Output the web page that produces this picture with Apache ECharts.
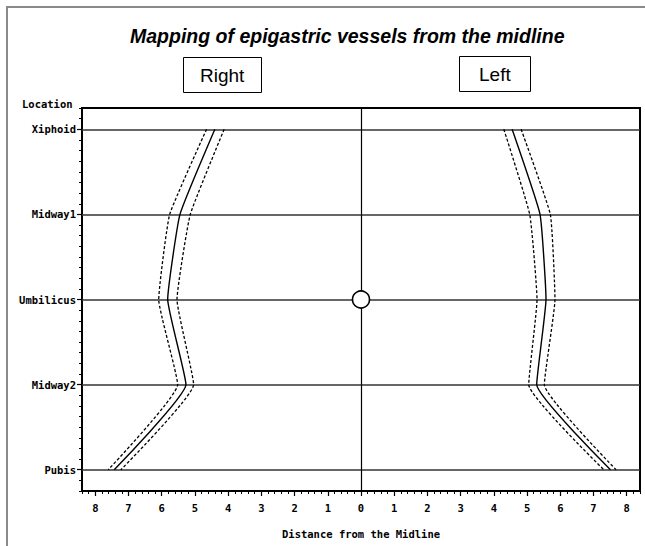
<!DOCTYPE html>
<html>
<head>
<meta charset="utf-8">
<script src="https://cdn.jsdelivr.net/npm/echarts@6/dist/echarts.min.js"></script>
<style>html,body{margin:0;padding:0;background:#fff}#c{width:645px;height:546px}</style>
</head>
<body>
<div id="c"></div>
<script>
// Locations, listed from top (Xiphoid) to bottom (Pubis)
const locations = ['Xiphoid', 'Midway1', 'Umbilicus', 'Midway2', 'Pubis'];
// Right side distances from midline (cm), mean and confidence bounds
const rightMean  = [4.40, 5.45, 5.82, 5.27, 7.43];
const rightInner = [4.12, 5.14, 5.54, 5.04, 7.23];
const rightOuter = [4.65, 5.76, 6.09, 5.52, 7.61];
// Left side
const leftMean  = [4.55, 5.39, 5.57, 5.29, 7.51];
const leftInner = [4.30, 5.08, 5.30, 5.05, 7.31];
const leftOuter = [4.82, 5.70, 5.84, 5.52, 7.68];
// Axis ticks
const xTicks = [-8,-7,-6,-5,-4,-3,-2,-1,0,1,2,3,4,5,6,7,8];
const yTicks = [0,1,2,3,4];
const umbilicusPoint = [0, 'Umbilicus'];

const yOf = name => locations.length - 1 - locations.indexOf(name);
function pts(vals, sign) {
  return vals.map((v, i) => [sign * v, yOf(locations[i])]);
}

const monoBold = {fontFamily: 'DejaVu Sans Mono', fontWeight: 'bold', fontSize: 10.5, color: '#000'};

function lineSeries(data, dashed, extra) {
  return Object.assign({
    type: 'line', data: data, smooth: 0.12, symbol: 'none', silent: true,
    lineStyle: {color: '#000', width: dashed ? 1.3 : 1.4, type: dashed ? [3, 2] : 'solid'},
    z: 3
  }, extra || {});
}

const chart = echarts.init(document.getElementById('c'), null, {renderer: 'svg'});
chart.setOption({
  animation: false,
  backgroundColor: '#fff',
  title: [
    {text: 'Mapping of epigastric vessels from the midline', left: 125, top: 21,
     textStyle: {fontFamily: 'Liberation Sans', fontWeight: 'bold', fontStyle: 'italic', fontSize: 19.5, color: '#000'}},
    {text: 'Right', left: 183, top: 57, borderColor: '#000', borderWidth: 1, padding: [8, 17],
     textStyle: {fontFamily: 'Liberation Sans', fontWeight: 'normal', fontSize: 19, lineHeight: 20, color: '#000'}},
    {text: 'Left', left: 459, top: 56, borderColor: '#000', borderWidth: 1, padding: [8, 20],
     textStyle: {fontFamily: 'Liberation Sans', fontWeight: 'normal', fontSize: 19, lineHeight: 20, color: '#000'}},
    {text: 'Location', left: 22, top: 98, padding: 0,
     textStyle: Object.assign({}, monoBold, {fontSize: 10.5})}
  ],
  graphic: [
    {type: 'rect', shape: {x: 7, y: 7, width: 800, height: 700}, style: {fill: 'none', stroke: '#8a8a8a', lineWidth: 2}, silent: true}
  ],
  grid: {left: 82, right: 5, top: 108, bottom: 55, show: true, borderColor: '#000', borderWidth: 2, containLabel: false},
  xAxis: [
    {type: 'value', min: -8.4, max: 8.4,
     axisLine: {show: false, onZero: false},
     axisTick: {show: true, customValues: xTicks, length: 5, lineStyle: {color: '#000', width: 1.2}},
     axisLabel: {customValues: xTicks, margin: 11, formatter: v => String(Math.abs(Math.round(v))), ...monoBold},
     splitLine: {show: false},
     name: 'Distance from the Midline', nameLocation: 'middle', nameGap: 37,
     nameTextStyle: monoBold},
    {type: 'value', min: -8.4, max: 8.4, interval: 0.2, position: 'bottom',
     axisLine: {show: false, onZero: false},
     axisTick: {show: true, length: 3, lineStyle: {color: '#000', width: 1}},
     axisLabel: {show: false}, splitLine: {show: false}}
  ],
  yAxis: [
    {type: 'value', min: -0.25, max: 4.25,
     axisLine: {show: false, onZero: false},
     axisTick: {show: true, customValues: yTicks, length: 5, lineStyle: {color: '#000', width: 1.2}},
     axisLabel: {customValues: yTicks, margin: 6, formatter: v => locations[locations.length - 1 - Math.round(v)], ...monoBold},
     splitLine: {show: true, lineStyle: {color: '#333', width: 1.5}}},
    {type: 'value', min: -0.25, max: 4.25, interval: 0.125, position: 'left',
     axisLine: {show: false, onZero: false},
     axisTick: {show: true, length: 3, lineStyle: {color: '#000', width: 1}},
     axisLabel: {show: false}, splitLine: {show: false}}
  ],
  series: [
    lineSeries(pts(rightOuter, -1), true, {z: 2,
      markLine: {silent: true, symbol: 'none', label: {show: false},
        lineStyle: {color: '#000', width: 1.2, type: 'solid'}, data: [{xAxis: 0}]}}),
    lineSeries(pts(rightMean, -1), false),
    lineSeries(pts(rightInner, -1), true),
    lineSeries(pts(leftInner, 1), true),
    lineSeries(pts(leftMean, 1), false),
    lineSeries(pts(leftOuter, 1), true),
    {type: 'scatter', data: [[umbilicusPoint[0], yOf(umbilicusPoint[1])]], symbol: 'circle', symbolSize: 17,
     itemStyle: {color: '#fff', borderColor: '#000', borderWidth: 1.6, opacity: 1}, z: 10, silent: true}
  ]
});
</script>
</body>
</html>
